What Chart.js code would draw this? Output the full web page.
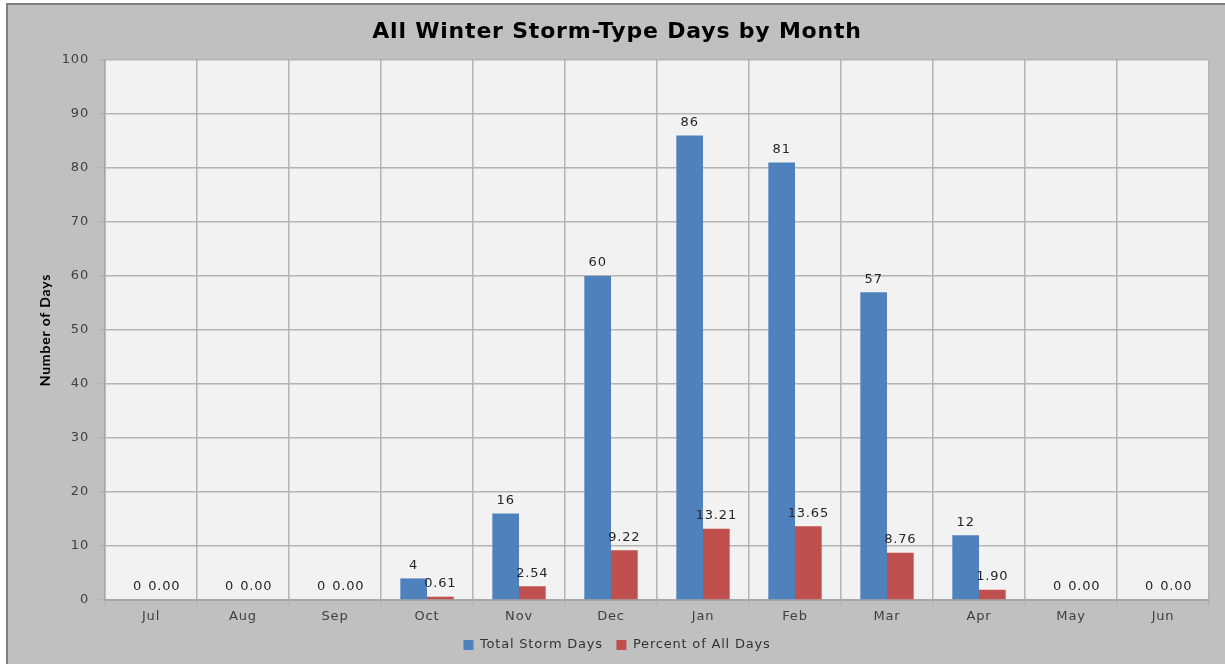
<!DOCTYPE html>
<html lang="en">
<head>
    <meta charset="UTF-8">
    <title>All Winter Storm-Type Days by Month</title>
    <script src="https://cdn.jsdelivr.net/npm/chart.js"></script>
    <style>
        body {
            margin: 0;
            background-color: #ffffff;
        }
        .frame {
            position: absolute;
            left: 6px;
            top: 3px;
            width: 1217px;
            height: 659px;
            background-color: #c0c0c0;
            border-left: 2px solid #7f7f7f;
            border-top: 2px solid #7f7f7f;
        }
        canvas {
            display: block;
        }
    </style>
</head>
<body>
    <div class="frame">
        <canvas id="stormChart" width="1217" height="659"></canvas>
    </div>

    <script>
        // Data
        const months = ['Jul', 'Aug', 'Sep', 'Oct', 'Nov', 'Dec', 'Jan', 'Feb', 'Mar', 'Apr', 'May', 'Jun'];
        const totalStormDays = [0, 0, 0, 4, 16, 60, 86, 81, 57, 12, 0, 0];
        const percentOfAllDays = [0, 0, 0, 0.61, 2.54, 9.22, 13.21, 13.65, 8.76, 1.90, 0, 0];
        const yTicks = [0, 10, 20, 30, 40, 50, 60, 70, 80, 90, 100];

        const tickFont = { family: 'DejaVu Sans', size: 13 };

        // the original text is a bit wider than DejaVu, so space the letters out a little
        const wideText = {
            id: 'wideText',
            beforeLayout(chart) { chart.ctx.letterSpacing = '0.8px'; },
            beforeDraw(chart) { chart.ctx.letterSpacing = '0.8px'; }
        };

        // light plot background behind the bars
        const plotBackground = {
            id: 'plotBackground',
            beforeDraw(chart) {
                const { ctx, chartArea: a } = chart;
                ctx.save();
                ctx.fillStyle = '#f2f2f2';
                ctx.fillRect(a.left, a.top, a.right - a.left, a.bottom - a.top);
                ctx.restore();
            }
        };

        // value labels above each bar
        const barLabels = {
            id: 'barLabels',
            afterDatasetsDraw(chart) {
                const ctx = chart.ctx;
                ctx.save();
                ctx.font = '13px "DejaVu Sans"';
                ctx.fillStyle = '#262626';
                ctx.textAlign = 'center';
                ctx.textBaseline = 'middle';
                chart.data.datasets.forEach((ds, i) => {
                    chart.getDatasetMeta(i).data.forEach((bar, j) => {
                        const v = ds.data[j];
                        const text = i === 0 ? String(v) : v.toFixed(2);
                        ctx.fillText(text, bar.x, bar.y - 13);
                    });
                });
                ctx.restore();
            }
        };

        const ctx = document.getElementById('stormChart').getContext('2d');
        new Chart(ctx, {
            type: 'bar',
            data: {
                labels: months,
                datasets: [{
                    label: 'Total Storm Days',
                    data: totalStormDays,
                    backgroundColor: '#4f81bd',
                    categoryPercentage: 0.58,
                    barPercentage: 1.0
                }, {
                    label: 'Percent of All Days',
                    data: percentOfAllDays,
                    backgroundColor: '#c0504d',
                    categoryPercentage: 0.58,
                    barPercentage: 1.0
                }]
            },
            options: {
                responsive: false,
                animation: false,
                layout: {
                    padding: { left: 17, right: 16, top: 0, bottom: 2.5 }
                },
                plugins: {
                    title: {
                        display: true,
                        text: 'All Winter Storm-Type Days by Month',
                        color: '#000000',
                        font: { family: 'DejaVu Sans', size: 22, weight: 'bold' },
                        padding: { top: 14, bottom: 14.6 }
                    },
                    legend: {
                        position: 'bottom',
                        labels: {
                            color: '#333333',
                            font: tickFont,
                            boxWidth: 10,
                            boxHeight: 10,
                            padding: 13.5
                        }
                    },
                    tooltip: { enabled: false }
                },
                scales: {
                    x: {
                        afterFit(scale) { scale.height = 25; },
                        grid: {
                            offset: true,
                            color: '#b4b4b4',
                            lineWidth: 1.5,
                            tickLength: 6
                        },
                        border: { color: '#a6a6a6', width: 2 },
                        ticks: { color: '#404040', font: tickFont, padding: 3 }
                    },
                    y: {
                        min: 0,
                        max: 100,
                        afterFit(scale) { scale.width = 80; },
                        afterBuildTicks(scale) {
                            scale.ticks = yTicks.map(v => ({ value: v }));
                        },
                        grid: {
                            color: '#b4b4b4',
                            lineWidth: 1.5,
                            tickLength: 6
                        },
                        border: { color: '#a6a6a6', width: 1.5 },
                        ticks: { color: '#404040', font: tickFont, padding: 10 },
                        title: {
                            display: true,
                            text: 'Number of Days',
                            color: '#000000',
                            font: { family: '"Liberation Sans Narrow", Lato, sans-serif', size: 14, weight: 'bold' },
                            padding: { top: 12, bottom: 0 }
                        }
                    }
                }
            },
            plugins: [wideText, plotBackground, barLabels]
        });
    </script>
</body>
</html>
